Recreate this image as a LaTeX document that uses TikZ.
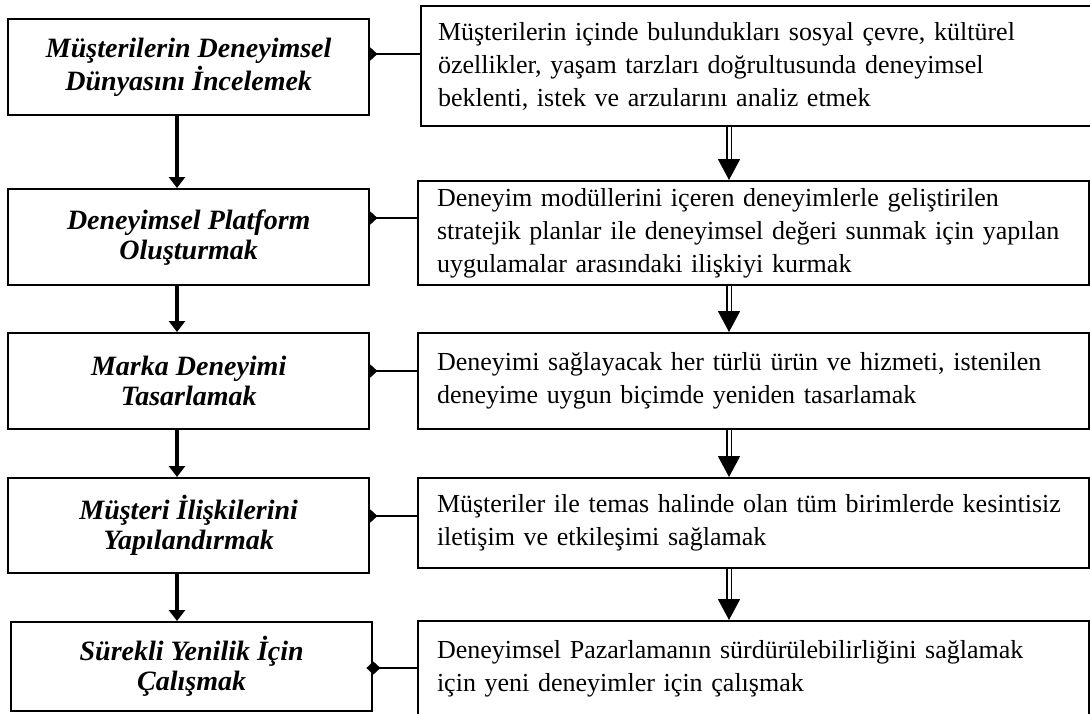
\documentclass[tikz,border=0pt]{standalone}
\usepackage{fontspec}
\setmainfont{Liberation Serif}
\usetikzlibrary{arrows.meta,positioning,backgrounds}

\begin{document}
\begin{tikzpicture}[x=0.5pt, y=-0.5pt,
  stage/.style={draw, line width=1.2pt, fill=white, align=center, anchor=north west, minimum width=180.5pt, inner sep=0pt, font=\fontsize{14}{15}\selectfont\bfseries\itshape},
  desc/.style={draw, line width=1pt, fill=white, align=left, anchor=north west, inner xsep=9.5pt, inner ysep=0pt, text width=316.5pt, font=\fontsize{13}{16.5}\selectfont},
  flow/.style={line width=2pt, -{Triangle[length=5.5pt, width=8pt]}},
  dbl/.style={double, double distance=1.5pt, line width=0.9pt, -{Triangle[length=10.5pt, width=11pt]}},
  tie/.style={line width=1.1pt, -{Diamond[length=7pt, width=6.5pt]}, shorten >=-3.5pt}]
  \useasboundingbox (0,0) rectangle (1090,713);
  % stages
  \node[stage, minimum height=48pt] (l1) at (7,18) {Müşterilerin Deneyimsel\\Dünyasını İncelemek};
  \node[stage, minimum height=48pt] (l2) at (7,188) {Deneyimsel Platform\\Oluşturmak};
  \node[stage, minimum height=48pt] (l3) at (7,332) {Marka Deneyimi\\Tasarlamak};
  \node[stage, minimum height=47.5pt] (l4) at (7,477) {Müşteri İlişkilerini\\Yapılandırmak};
  \node[stage, minimum height=44.5pt] (l5) at (10,621) {Sürekli Yenilik İçin\\Çalışmak};
  % descriptions
  \node[desc, minimum height=60pt, text width=360pt, inner xsep=8.5pt] (r1) at (420,5) {Müşterilerin içinde bulundukları sosyal çevre, kültürel\\özellikler, yaşam tarzları doğrultusunda deneyimsel\\beklenti, istek ve arzularını analiz etmek};
  \node[desc, minimum height=52pt] (r2) at (417,180) {Deneyim modüllerini içeren deneyimlerle geliştirilen\\stratejik planlar ile deneyimsel değeri sunmak için yapılan\\uygulamalar arasındaki ilişkiyi kurmak};
  \node[desc, minimum height=48pt] (r3) at (417,332) {Deneyimi sağlayacak her türlü ürün ve hizmeti, istenilen\\deneyime uygun biçimde yeniden tasarlamak};
  \node[desc, minimum height=45pt] (r4) at (417,477) {Müşteriler ile temas halinde olan tüm birimlerde kesintisiz\\iletişim ve etkileşimi sağlamak};
  \node[desc, minimum height=48pt] (r5) at (417,620) {Deneyimsel Pazarlamanın sürdürülebilirliğini sağlamak\\için yeni deneyimler için çalışmak};
  % arrows
  \coordinate (lx) at (177,0);
  \coordinate (rx) at (729,0);
  \foreach \a/\b in {l1/l2,l2/l3,l3/l4,l4/l5}
    \draw[flow] (\a.south -| lx) -- (\b.north -| lx);
  \foreach \a/\b in {r1/r2,r2/r3,r3/r4,r4/r5}
    \draw[dbl] (\a.south -| rx) -- (\b.north -| rx);
  % links
  \path (0,54) coordinate (t1) (0,218) coordinate (t2) (0,371) coordinate (t3)
        (0,516) coordinate (t4) (0,668) coordinate (t5);
  \begin{scope}[on background layer]
    \foreach \i in {1,...,4}
      \draw[tie] (r\i.west |- t\i) -- (l\i.east |- t\i);
  \end{scope}
  \draw[tie] (r5.west |- t5) -- (l5.east |- t5);
\end{tikzpicture}
\end{document}
